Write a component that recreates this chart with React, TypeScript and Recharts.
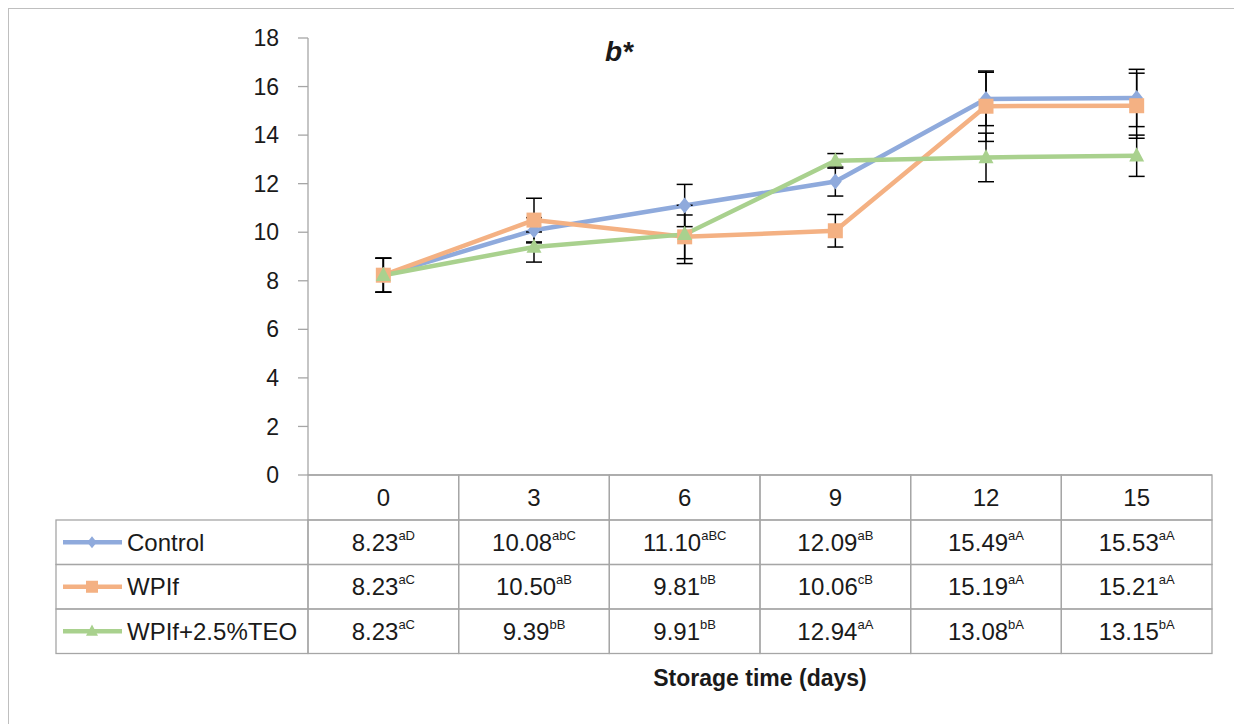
import { LineChart, Line, XAxis, YAxis, ErrorBar } from "recharts"

// storage days (x categories)
const days = ["0", "3", "6", "9", "12", "15"]

// b* means per treatment
const control = [8.23, 10.08, 11.1, 12.09, 15.49, 15.53]
const wpif = [8.23, 10.5, 9.81, 10.06, 15.19, 15.21]
const wpifTeo = [8.23, 9.39, 9.91, 12.94, 13.08, 13.15]

// significance letters shown in the data table
const controlSig = ["aD", "abC", "aBC", "aB", "aA", "aA"]
const wpifSig = ["aC", "aB", "bB", "cB", "aA", "aA"]
const wpifTeoSig = ["aC", "bB", "bB", "aA", "bA", "bA"]

// standard deviations
const controlErr = [0.7, 0.52, 0.87, 0.6, 1.1, 1.18]
const wpifErr = [0.7, 0.9, 0.9, 0.67, 1.45, 1.34]
const wpifTeoErr = [0.7, 0.62, 1.2, 0.3, 1.0, 0.85]

const yTicks = [0, 2, 4, 6, 8, 10, 12, 14, 16, 18]

const data = days.map((day, i) => ({
  day,
  control: control[i],
  controlErr: controlErr[i],
  wpif: wpif[i],
  wpifErr: wpifErr[i],
  wpifTeo: wpifTeo[i],
  wpifTeoErr: wpifTeoErr[i],
}))

const series = [
  { key: "control", name: "Control", color: "#8faadc", shape: "diamond", values: control, sig: controlSig },
  { key: "wpif", name: "WPIf", color: "#f4b183", shape: "square", values: wpif, sig: wpifSig },
  { key: "wpifTeo", name: "WPIf+2.5%TEO", color: "#a9d18e", shape: "triangle", values: wpifTeo, sig: wpifTeoSig },
]

const FONT = "'Liberation Sans', Arial, sans-serif"
const GRID = "#a6a6a6"
const TEXT = "#1a1a1a"

const W = 1232
const H = 716
const PLOT_LEFT = 300
const PLOT_RIGHT = 1204
const COL_W = (PLOT_RIGHT - PLOT_LEFT) / days.length
const HEADER_H = 45
const ROW_H = 44.5
const TABLE_LEFT = 48

function Marker({ shape, cx, cy, size, color }: any) {
  if (shape === "square") {
    return <rect x={cx - size / 2} y={cy - size / 2} width={size} height={size} fill={color} />
  }
  if (shape === "triangle") {
    const h = size * 0.95
    return (
      <path
        d={`M${cx},${cy - h * 0.6} L${cx + size / 2},${cy + h * 0.4} L${cx - size / 2},${cy + h * 0.4} Z`}
        fill={color}
      />
    )
  }
  const r = size / 2
  return <path d={`M${cx},${cy - r} L${cx + r * 0.8},${cy} L${cx},${cy + r} L${cx - r * 0.8},${cy} Z`} fill={color} />
}

function ValueText({ x, y, value, sig }: any) {
  return (
    <text x={x} y={y} textAnchor="middle" fontFamily={FONT} fill={TEXT}>
      <tspan fontSize={24}>{value.toFixed(2)}</tspan>
      <tspan fontSize={13} dy={-11}>
        {sig}
      </tspan>
    </text>
  )
}

// each x tick draws its column of the data table (and the legend column for the first one)
function TableColumn(props: any) {
  const { x, y, payload } = props
  const i = payload.index
  const left = x - COL_W / 2
  const top = y
  return (
    <g>
      <rect x={left} y={top} width={COL_W} height={HEADER_H} fill="none" stroke={GRID} strokeWidth={1.3} />
      <text x={x} y={top + HEADER_H / 2 + 8.5} textAnchor="middle" fontFamily={FONT} fontSize={24} fill={TEXT}>
        {payload.value}
      </text>
      {series.map((s, r) => {
        const rowTop = top + HEADER_H + r * ROW_H
        const mid = rowTop + ROW_H / 2
        return (
          <g key={s.key}>
            <rect x={left} y={rowTop} width={COL_W} height={ROW_H} fill="none" stroke={GRID} strokeWidth={1.3} />
            <ValueText x={x} y={mid + 8.5} value={s.values[i]} sig={s.sig[i]} />
            {i === 0 && (
              <g>
                <rect
                  x={TABLE_LEFT}
                  y={rowTop}
                  width={left - TABLE_LEFT}
                  height={ROW_H}
                  fill="none"
                  stroke={GRID}
                  strokeWidth={1.3}
                />
                <line x1={TABLE_LEFT + 7} x2={TABLE_LEFT + 66} y1={mid} y2={mid} stroke={s.color} strokeWidth={4.5} />
                <Marker shape={s.shape} cx={TABLE_LEFT + 36} cy={mid} size={12} color={s.color} />
                <text x={TABLE_LEFT + 71} y={mid + 8.5} fontFamily={FONT} fontSize={24} fill={TEXT}>
                  {s.name}
                </text>
              </g>
            )}
          </g>
        )
      })}
    </g>
  )
}

const dotSizes: Record<string, number> = { diamond: 16, square: 15, triangle: 15 }

export default function App() {
  return (
    <div
      style={{
        position: "relative",
        width: W,
        height: H,
        borderTop: "1px solid #bfbfbf",
        borderLeft: "1px solid #bfbfbf",
        borderRight: "1px solid #bfbfbf",
        boxSizing: "border-box",
        background: "#fff",
      }}
    >
      <div style={{ position: "absolute", left: -1, top: -1 }}>
        <LineChart width={W} height={H} data={data} margin={{ top: 30, right: 28, bottom: 59, left: 0 }}>
          <XAxis
            dataKey="day"
            interval={0}
            height={190}
            padding={{ left: COL_W / 2, right: COL_W / 2 }}
            axisLine={{ stroke: GRID, strokeWidth: 1.3 }}
            tickLine={false}
            tickSize={0}
            tickMargin={0}
            tick={<TableColumn />}
          />
          <YAxis
            width={300}
            domain={[0, 18]}
            ticks={yTicks}
            interval={0}
            axisLine={{ stroke: GRID, strokeWidth: 1.3 }}
            tickLine={{ stroke: GRID, strokeWidth: 1.3 }}
            tickSize={10}
            tickMargin={19}
            tick={{ fontFamily: FONT, fontSize: 23, fill: TEXT }}
          />
          {series.map((s) => (
            <Line
              key={s.key}
              type="linear"
              dataKey={s.key}
              name={s.name}
              stroke={s.color}
              strokeWidth={4.5}
              isAnimationActive={false}
              dot={(p: any) => (
                <Marker
                  key={`${s.key}-${p.index}`}
                  shape={s.shape}
                  cx={p.cx}
                  cy={p.cy}
                  size={dotSizes[s.shape]}
                  color={s.color}
                />
              )}
              activeDot={false}
            >
              <ErrorBar
                dataKey={`${s.key}Err`}
                direction="y"
                width={8}
                stroke="#000"
                strokeWidth={1.5}
                isAnimationActive={false}
              />
            </Line>
          ))}
        </LineChart>
      </div>
      <div
        style={{
          position: "absolute",
          left: 596,
          top: 27,
          fontFamily: FONT,
          fontSize: 28,
          fontWeight: "bold",
          fontStyle: "italic",
          lineHeight: "32px",
          color: TEXT,
        }}
      >
        b*
      </div>
      <div
        style={{
          position: "absolute",
          left: 551,
          width: 400,
          top: 654,
          textAlign: "center",
          fontFamily: FONT,
          fontSize: 23,
          fontWeight: "bold",
          lineHeight: "30px",
          color: TEXT,
        }}
      >
        Storage time (days)
      </div>
    </div>
  )
}
